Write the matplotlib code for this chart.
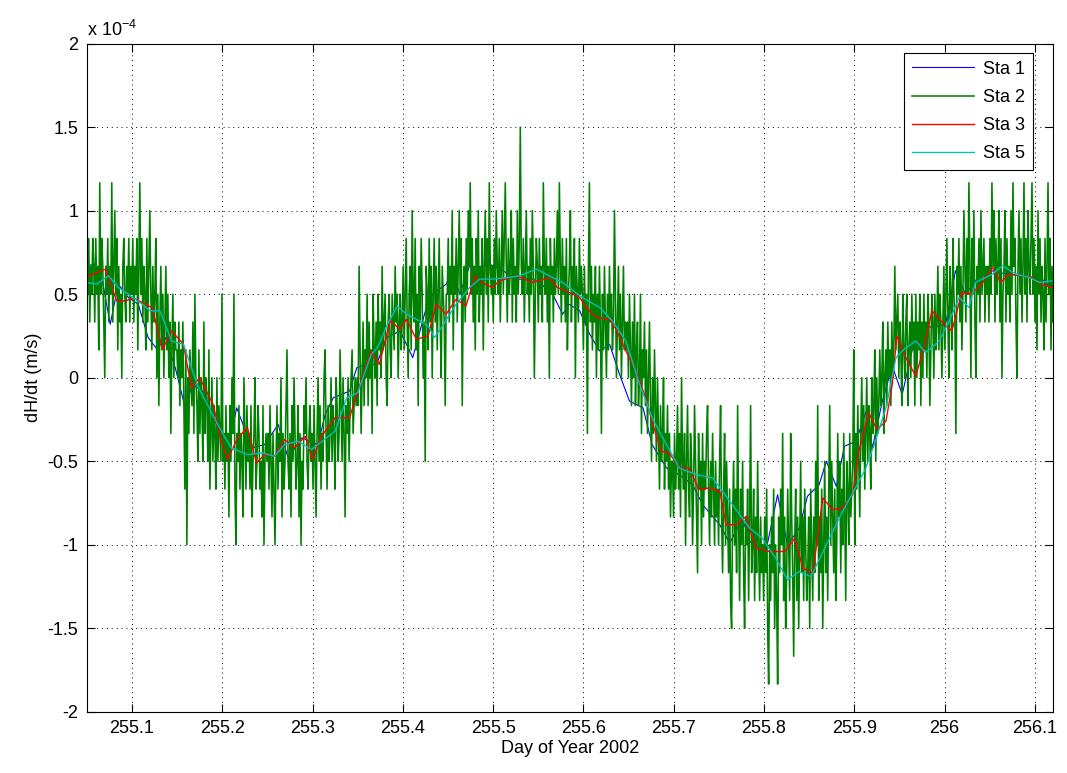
import numpy as np
import matplotlib; matplotlib.use("Agg")
import matplotlib.pyplot as plt

plt.rcParams["font.family"] = ["Liberation Sans", "DejaVu Sans"]

# ─── Data (dH/dt in units of 1e-4 m/s) ─────────────────────────────────────
# Sta 1 (blue)
sta1_t = [255.050, 255.059, 255.068, 255.076, 255.085, 255.096, 255.107, 255.118,
          255.128, 255.137, 255.148, 255.159, 255.167, 255.178, 255.200, 255.205,
          255.216, 255.233, 255.247, 255.262, 255.273, 255.288, 255.306, 255.314,
          255.323, 255.341, 255.349, 255.360, 255.371, 255.382, 255.397, 255.411,
          255.426, 255.433, 255.448, 255.455, 255.463, 255.474, 255.485, 255.496,
          255.511, 255.526, 255.544, 255.551, 255.566, 255.577, 255.584, 255.596,
          255.607, 255.618, 255.629, 255.640, 255.651, 255.666, 255.676, 255.692,
          255.706, 255.721, 255.732, 255.751, 255.762, 255.776, 255.784, 255.802,
          255.815, 255.826, 255.839, 255.848, 255.861, 255.869, 255.880, 255.889,
          255.902, 255.913, 255.920, 255.931, 255.942, 255.953, 255.971, 255.986,
          256.001, 256.012, 256.023, 256.037, 256.053, 256.068, 256.090, 256.112,
          256.119]
sta1_v = [0.67, 0.68, 0.56, 0.32, 0.56, 0.48, 0.44, 0.24,
          0.17, 0.24, 0.06, -0.18, -0.04, -0.08, -0.36, -0.48,
          -0.18, -0.42, -0.40, -0.28, -0.48, -0.36, -0.40, -0.22,
          -0.12, -0.08, 0.06, 0.08, 0.08, 0.24, 0.28, 0.12,
          0.42, 0.50, 0.56, 0.64, 0.50, 0.67, 0.66, 0.68,
          0.64, 0.59, 0.59, 0.57, 0.50, 0.38, 0.44, 0.40,
          0.26, 0.16, 0.20, 0.02, -0.14, -0.18, -0.40, -0.54,
          -0.58, -0.64, -0.76, -0.88, -0.99, -0.84, -0.98, -1.04,
          -0.70, -1.00, -0.90, -0.71, -0.64, -0.50, -0.65, -0.41,
          -0.38, -0.20, -0.42, -0.14, 0.07, -0.10, 0.33, 0.30,
          0.32, 0.64, 0.50, 0.60, 0.64, 0.62, 0.61, 0.58,
          0.50]

# Sta 2 (green): quantised in steps of 1/6 (x 1e-4), evenly sampled,
# one row per 0.05 day
sta2_levels = [
    4, 3, 5, 2, 4, 3, 5, 4, 2, 5, 3, 4, 1, 7, 3, 5, 4, 2, 0, 4, 3, 5, 2, 4, 3, 7, 2, 4, 6, 3, 5, 1, 4, 2, 3, 0, 4, 5, 3, 2, 4, 3, 5, 2, 4,
    3, 5, 2, 4, 3, 5, 1, 4, 7, 3, 5, 2, 4, 3, 1, 5, 2, 4, 6, 3, 1, 4, 2, 3, 5, 0, 3, -1, 2, 4, 1, 3, 0, 2, 4, 1, 3, 0, 2, -2, 1, 3, 0, 2, 1,
    1, 0, 2, -1, 1, 0, 2, -1, -4, 1, -6, 0, -2, 1, 0, -1, 2, -2, 3, 0, -1, -3, 1, -2, 0, -1, -3, 2, -2, 0, -1, -3, 1, -4, -2, 0, -3, -1, -2, -4, 0, -3, -1, -2, -3,
    3, -3, -2, -4, -1, -3, -2, -5, -1, -3, 0, -2, 3, -4, -6, -2, -3, -1, -4, -2, -3, -5, 0, -2, -4, -1, -3, -2, -4, -1, -5, -3, -2, 0, -4, -3, -1, -2, -4, -3, -5, -1, -6, -3, -2,
    -3, -2, -4, -1, -3, -5, -2, -4, -6, -3, -1, -4, -2, -3, 0, -5, -2, -4, -3, -1, 1, -3, -4, -2, -5, -1, -3, 0, -2, -4, -3, -1, -5, -2, -6, -3, -4, -1, -2, 0, -3, -4, -2, -1, -3,
    -2, -4, -1, -3, -5, -2, 0, -3, -1, -4, -2, -3, 0, 1, -2, -4, -1, -3, -2, 0, -3, -1, -2, -4, 0, -1, -3, -2, 1, -1, -3, 0, -2, -5, -1, -2, 0, -3, -1, 0, 1, -2, -1, 0, -1,
    0, -1, 4, 1, -2, 0, 2, -1, 1, 0, 3, -1, 2, 0, 1, -2, 3, 1, 0, 2, -1, 3, 1, 2, 0, 4, 1, 2, 3, 0, -1, 2, 3, 1, 0, 3, 2, 1, 4, 2, 3, 0, 2, 3, 1,
    2, 4, 1, 3, 5, 2, 0, 3, 4, 1, 6, 3, 2, 5, 1, 3, -1, 4, 2, 5, 3, 0, 2, -3, 4, 3, 1, 5, 2, 4, 0, 3, 5, 2, 4, 1, 3, 5, 2, 0, 4, 3, 2, -1, 3,
    3, 5, 2, 4, 3, 6, 1, 4, 3, 5, 2, 4, 6, 3, 5, -1, 3, 4, 2, 5, 3, 6, 4, 7, 3, 5, 2, 4, 1, 5, 3, 6, 2, 4, 3, 5, 1, 4, 6, 3, 5, 2, 7, 4, 3,
    4, 2, 5, 3, 6, 4, 3, 5, 2, 4, 6, 3, 5, 7, 4, 2, 5, 3, 4, 6, 2, 5, 3, 4, 2, 6, 3, 5, 9, 4, 3, 5, 2, 4, 6, 3, 4, 2, 5, 3, 6, 4, 0, 3, 5,
    4, 2, 5, 3, 4, 2, 7, 4, 3, 5, 2, 4, 0, 5, 3, 4, 2, 5, 3, 4, 6, 3, 7, 4, 2, 5, 3, 4, 2, 5, 1, 3, 4, 6, 2, 4, 3, 5, 0, 4, 3, 2, 5, 3, 4,
    3, 1, 4, 2, 3, -2, 4, 7, 2, 4, 1, 3, 2, 4, 0, 3, 1, 4, 2, -2, 3, 1, 4, 2, 0, 3, 1, 4, 2, 3, 1, 2, 6, 3, 0, 2, 4, 1, 3, 0, 2, 4, 1, 2, 1,
    2, 0, 3, 1, -1, 2, 0, 3, -1, 1, 2, -1, 0, 3, -2, 1, 0, 2, -1, 1, -2, 0, 2, -1, -3, 0, -2, 1, -1, -3, 0, -2, -4, -1, -3, -2, 0, -4, -2, -3, -1, -4, -2, -5, -3,
    -3, -5, -2, -4, -3, -1, -4, -2, -5, 0, -3, -4, -2, -6, -3, -1, -4, -5, -2, -3, -6, -4, -1, -3, -5, -7, -2, -4, -3, -6, -2, -5, -3, -4, -2, -1, -4, -6, -3, -5, -2, -4, -6, -3, -5,
    -4, -6, -3, -1, -5, -7, -4, -2, -6, -3, -5, -7, -4, -8, -9, -5, -3, -6, -4, -7, -1, -5, -8, -4, -6, -3, -7, -9, -5, -6, -4, -8, -5, -1, -7, -6, -4, -8, -5, -7, -3, -6, -8, -5, -7,
    -6, -8, -5, -7, -4, -9, -11, -6, -8, -5, -7, -4, -9, -6, -8, -11, -5, -7, -4, -6, -2, -8, -5, -9, -7, -4, -6, -8, -2, -5, -7, -10, -6, -4, -8, -5, -9, -6, -3, -7, -5, -8, -4, -6, -8,
    -7, -5, -9, -4, -6, -8, -5, -7, -3, -6, -1, -8, -5, -7, -4, -9, -6, -3, -7, -5, -8, -4, -1, -6, -3, -5, -7, -4, -8, -6, -2, -5, -3, -7, -4, -6, -2, -5, -8, -3, -4, -6, -2, -5, -4,
    -3, 1, -6, -2, -4, -1, -3, -5, -2, 0, -3, -1, -4, -2, 0, -3, -1, -2, -4, 0, -2, -1, 1, -3, 0, -2, -1, 1, -1, 0, 2, -2, 0, 1, -1, 2, 0, 1, -1, 2, 0, 1, 4, 1, 2,
    3, 0, 2, 1, -1, 3, 1, 0, 2, 3, -1, 1, 2, 0, 3, 1, 2, -1, 3, 0, 2, 1, 3, -1, 2, 0, 3, 1, 2, 0, 3, 2, -1, 1, 3, 2, 0, 3, 1, 2, 4, 1, 3, 2, 0,
    2, 4, 1, 3, 5, 2, 0, 4, 3, 1, 5, 3, 2, -2, 4, 3, 5, 2, 4, 1, 3, 6, 4, 2, 5, 3, 7, 4, 0, 5, 3, 6, 2, 0, 4, 3, 5, 2, 6, 3, 4, 5, 2, 4, 3,
    4, 2, 5, 3, 7, 4, 6, 2, 5, 3, 4, 6, 2, 5, 0, 3, 4, 6, 2, 5, 3, 4, 2, 6, 3, 7, 4, 5, 2, 0, 4, 6, 3, 5, 2, 4, 7, 3, 5, 2, 6, 4, 3, 5, 7,
    3, 5, 2, 4, 1, 6, 3, 5, 2, 4, 3, 1, 5, 2, 4, 7, 3, 5, 1, 4, 2,
]
sta2_start, sta2_end = 255.05, 256.12

# Sta 3 (red)
sta3_t = [255.048, 255.071, 255.083, 255.094, 255.101, 255.122, 255.127, 255.134,
          255.144, 255.157, 255.166, 255.175, 255.190, 255.199, 255.206, 255.217,
          255.228, 255.238, 255.247, 255.258, 255.269, 255.280, 255.292, 255.300,
          255.310, 255.325, 255.341, 255.350, 255.365, 255.374, 255.386, 255.397,
          255.404, 255.415, 255.428, 255.437, 255.448, 255.459, 255.470, 255.480,
          255.487, 255.499, 255.507, 255.526, 255.544, 255.562, 255.571, 255.584,
          255.596, 255.603, 255.614, 255.629, 255.636, 255.647, 255.658, 255.669,
          255.676, 255.686, 255.695, 255.706, 255.717, 255.728, 255.739, 255.751,
          255.758, 255.769, 255.780, 255.791, 255.806, 255.823, 255.834, 255.843,
          255.854, 255.865, 255.876, 255.887, 255.898, 255.905, 255.916, 255.925,
          255.935, 255.942, 255.947, 255.957, 255.968, 255.977, 255.986, 255.996,
          256.008, 256.019, 256.029, 256.041, 256.053, 256.062, 256.071, 256.086,
          256.097, 256.106, 256.119]
sta3_v = [0.60, 0.65, 0.46, 0.46, 0.48, 0.42, 0.32, 0.17,
          0.28, 0.20, -0.06, 0.00, -0.16, -0.38, -0.49, -0.36,
          -0.30, -0.51, -0.46, -0.47, -0.37, -0.42, -0.35, -0.49,
          -0.35, -0.24, -0.24, -0.08, 0.16, 0.08, 0.34, 0.29,
          0.35, 0.23, 0.25, 0.44, 0.38, 0.47, 0.43, 0.61,
          0.57, 0.54, 0.58, 0.61, 0.57, 0.60, 0.54, 0.51,
          0.48, 0.42, 0.36, 0.35, 0.29, 0.16, 0.04, -0.12,
          -0.26, -0.44, -0.45, -0.54, -0.54, -0.67, -0.66, -0.68,
          -0.88, -0.88, -0.83, -1.02, -1.04, -1.04, -0.96, -1.14,
          -1.17, -0.72, -0.79, -0.78, -0.70, -0.44, -0.21, -0.31,
          -0.26, -0.04, 0.25, 0.12, 0.01, 0.18, 0.40, 0.34,
          0.28, 0.51, 0.50, 0.56, 0.66, 0.57, 0.62, 0.61,
          0.60, 0.56, 0.54]

# Sta 5 (cyan)
sta5_t = [255.050, 255.061, 255.074, 255.085, 255.096, 255.114, 255.120, 255.131,
          255.144, 255.157, 255.173, 255.195, 255.210, 255.228, 255.244, 255.258,
          255.269, 255.284, 255.299, 255.325, 255.338, 255.350, 255.365, 255.372,
          255.383, 255.394, 255.404, 255.419, 255.428, 255.435, 255.444, 255.459,
          255.474, 255.485, 255.499, 255.518, 255.529, 255.548, 255.562, 255.577,
          255.596, 255.618, 255.632, 255.647, 255.661, 255.676, 255.692, 255.706,
          255.725, 255.743, 255.765, 255.784, 255.798, 255.813, 255.826, 255.839,
          255.852, 255.869, 255.887, 255.898, 255.912, 255.922, 255.935, 255.946,
          255.955, 255.968, 255.979, 255.994, 256.005, 256.016, 256.027, 256.034,
          256.053, 256.064, 256.079, 256.094, 256.105, 256.119]
sta5_v = [0.57, 0.56, 0.61, 0.54, 0.50, 0.43, 0.40, 0.40,
          0.22, 0.20, -0.05, -0.28, -0.42, -0.46, -0.45, -0.47,
          -0.40, -0.38, -0.43, -0.32, -0.12, -0.09, 0.14, 0.18,
          0.32, 0.43, 0.38, 0.34, 0.31, 0.24, 0.31, 0.44,
          0.54, 0.59, 0.59, 0.60, 0.61, 0.65, 0.61, 0.57,
          0.49, 0.42, 0.34, 0.22, -0.02, -0.24, -0.40, -0.54,
          -0.58, -0.60, -0.76, -0.90, -0.96, -1.08, -1.21, -1.16,
          -1.19, -1.00, -0.80, -0.69, -0.55, -0.40, -0.18, 0.12,
          0.17, 0.22, 0.15, 0.22, 0.34, 0.48, 0.42, 0.57,
          0.62, 0.67, 0.62, 0.60, 0.57, 0.58]

y_ticks = [-2, -1.5, -1, -0.5, 0, 0.5, 1, 1.5, 2]
y_tick_labels = ["-2", "-1.5", "-1", "-0.5", "0", "0.5", "1", "1.5", "2"]
x_ticks = [255.1, 255.2, 255.3, 255.4, 255.5, 255.6, 255.7, 255.8, 255.9, 256.0, 256.1]
x_tick_labels = ["255.1", "255.2", "255.3", "255.4", "255.5", "255.6",
                 "255.7", "255.8", "255.9", "256", "256.1"]

# ─── Plot ───────────────────────────────────────────────────────────────────
sta2_v = np.array(sta2_levels) / 6.0
sta2_t = np.linspace(sta2_start, sta2_end, len(sta2_v))

fig = plt.figure(figsize=(10.67, 7.73), dpi=100)
ax = fig.add_axes([0.0813, 0.079, 0.9056, 0.8647])

ax.plot(sta1_t, sta1_v, color="#0000ff", lw=0.8, label="Sta 1")
ax.plot(sta2_t, sta2_v, color="#008000", lw=1.15, label="Sta 2")
ax.plot(sta3_t, sta3_v, color="#ff0000", lw=1.0, label="Sta 3")
ax.plot(sta5_t, sta5_v, color="#00bfbf", lw=1.0, label="Sta 5")

ax.set_xlim(255.05, 256.12)
ax.set_ylim(-2, 2)
ax.set_xticks(x_ticks); ax.set_xticklabels(x_tick_labels)
ax.set_yticks(y_ticks); ax.set_yticklabels(y_tick_labels)
ax.tick_params(direction="in", length=6, width=0.8, top=True, right=True,
               labelsize=13, pad=6)
ax.grid(True, color="black", linestyle=(0, (1, 4)), linewidth=0.7)
for s in ax.spines.values():
    s.set_linewidth(0.8)

ax.set_xlabel("Day of Year 2002", fontsize=13, labelpad=2)
ax.set_ylabel("dH/dt (m/s)", fontsize=13, labelpad=4)
ax.text(0.0, 1.005, "x 10$^{\\mathregular{-4}}$", transform=ax.transAxes,
        fontsize=13, ha="left", va="bottom")

leg = ax.legend(loc="upper right", bbox_to_anchor=(0.979, 0.9865), borderaxespad=0,
                fontsize=13, fancybox=False, framealpha=1, edgecolor="black",
                handlelength=3.4, labelspacing=0.62, handletextpad=0.5,
                borderpad=0.45)
leg.get_frame().set_linewidth(0.8)

plt.savefig("out.png", dpi=100)
plt.close()
